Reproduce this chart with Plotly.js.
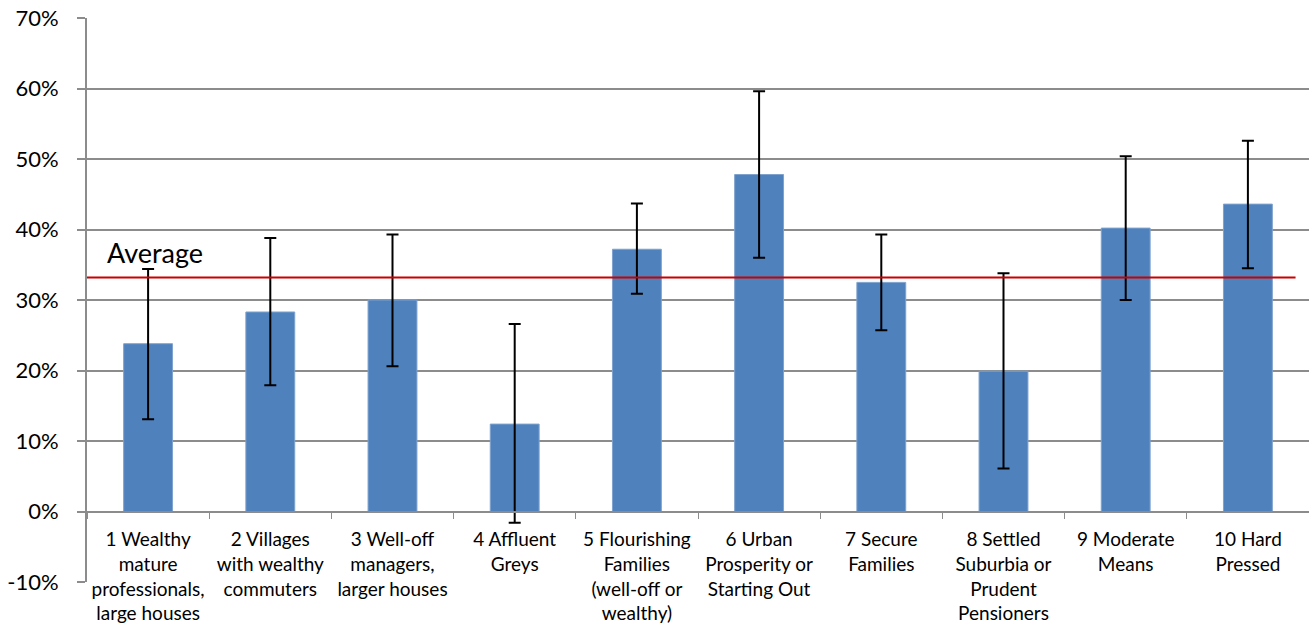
<!DOCTYPE html>
<html>
<head>
<meta charset="utf-8">
<script src="https://cdn.plot.ly/plotly-3.0.1.min.js"></script>
<style>html,body{margin:0;padding:0;background:#fff;}#chart{width:1309px;height:630px;}</style>
</head>
<body>
<div id="chart"></div>
<script>
const categories = [
  "1 Wealthy<br>mature<br>professionals,<br>large houses",
  "2 Villages<br>with wealthy<br>commuters",
  "3 Well-off<br>managers,<br>larger houses",
  "4 Affluent<br>Greys",
  "5 Flourishing<br>Families<br>(well-off or<br>wealthy)",
  "6 Urban<br>Prosperity or<br>Starting Out",
  "7 Secure<br>Families",
  "8 Settled<br>Suburbia or<br>Prudent<br>Pensioners",
  "9 Moderate<br>Means",
  "10 Hard<br>Pressed"
];
const values     = [0.238, 0.283, 0.300, 0.124, 0.372, 0.478, 0.325, 0.199, 0.402, 0.436];
const upperBound = [0.344, 0.388, 0.393, 0.266, 0.437, 0.596, 0.393, 0.338, 0.504, 0.526];
const lowerBound = [0.131, 0.179, 0.206, -0.016, 0.309, 0.360, 0.257, 0.061, 0.300, 0.345];
const average = 0.332;
const averageLabel = "Average";
const yTickVals = [-0.1, 0, 0.1, 0.2, 0.3, 0.4, 0.5, 0.6, 0.7];
const yTickText = ["-10%", "0%", "10%", "20%", "30%", "40%", "50%", "60%", "70%"];

const errPlus = upperBound.map((u, i) => u - values[i]);
const errMinus = lowerBound.map((l, i) => values[i] - l);

const font = "Lato, 'Open Sans', sans-serif";

const data = [{
  type: 'bar',
  x: categories,
  y: values,
  marker: {color: '#4F81BD', line: {color: '#7FA2CE', width: 1}},
  error_y: {
    type: 'data', symmetric: false,
    array: errPlus, arrayminus: errMinus,
    color: '#000000', thickness: 2, width: 6
  },
  hoverinfo: 'none'
}];

const layout = {
  width: 1309, height: 630,
  margin: {l: 87, r: 0, t: 18, b: 48, pad: 0},
  paper_bgcolor: '#ffffff', plot_bgcolor: '#ffffff',
  showlegend: false,
  bargap: 0.6,
  font: {family: font, color: '#000000'},
  xaxis: {
    type: 'category',
    anchor: 'free', position: 0.125,
    showline: true, linecolor: '#8c8c8c', linewidth: 2,
    ticks: 'outside', tickson: 'boundaries', ticklen: 6, tickcolor: '#8c8c8c', tickwidth: 1,
    showgrid: false, zeroline: false,
    tickfont: {family: font, size: 19, color: '#000000'},
    ticklabelstandoff: 11,
    range: [-0.5, 9.5]
  },
  yaxis: {
    range: [-0.1, 0.7],
    tickmode: 'array', tickvals: yTickVals, ticktext: yTickText,
    showgrid: true, gridcolor: '#8c8c8c', gridwidth: 2,
    zeroline: false,
    showline: true, linecolor: '#8c8c8c', linewidth: 2,
    ticks: 'outside', ticklen: 8, tickcolor: '#8c8c8c', tickwidth: 2,
    tickfont: {family: font, size: 22, color: '#000000'},
    ticklabelstandoff: 14
  },
  shapes: [{
    type: 'line', xref: 'x', yref: 'y',
    x0: -0.5, x1: 9.39, y0: average, y1: average,
    line: {color: '#CC0000', width: 2}
  }],
  annotations: [{
    xref: 'x', yref: 'y', x: -0.35, y: average,
    xanchor: 'left', yanchor: 'bottom', yshift: 6,
    text: averageLabel, showarrow: false,
    font: {family: font, size: 27, color: '#000000'}
  }]
};

Plotly.newPlot('chart', data, layout, {displayModeBar: false, staticPlot: true});
</script>
</body>
</html>
